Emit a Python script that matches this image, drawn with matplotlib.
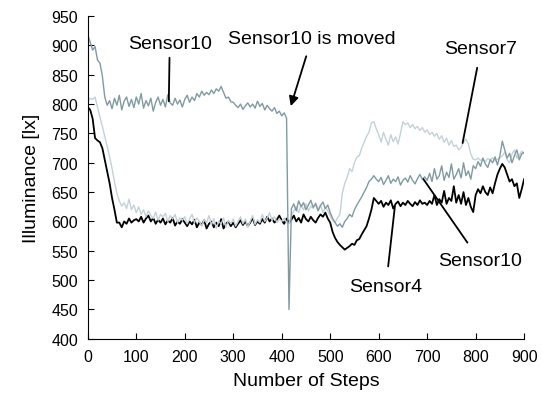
import matplotlib
matplotlib.use("Agg")
import matplotlib.pyplot as plt
import numpy as np

plt.rcParams["font.family"] = ["Liberation Sans", "DejaVu Sans"]

# readings every 5 steps, 0..900
steps = np.arange(0, 905, 5)

sensor10 = [
    918, 905, 892, 898, 875, 870, 848, 812, 798, 806, 792, 810, 798, 815, 790, 805, 812, 796, 808, 794,
    812, 800, 818, 793, 806, 797, 810, 788, 803, 812, 798, 808, 795, 816, 802, 798, 810, 800, 807, 795,
    808, 815, 803, 812, 806, 818, 812, 822, 815, 820, 816, 824, 818, 826, 822, 830, 820, 810, 812, 804,
    803, 798, 794, 800, 791, 797, 802, 795, 800, 793, 805, 796, 801, 790, 798, 792, 788, 794, 784, 788,
    780, 785, 776, 450, 622, 630, 618, 635, 625, 632, 620, 628, 636, 624, 630, 618, 627, 633, 622, 628,
    615, 605, 598, 592, 596, 590, 600, 605, 612, 608, 620, 628, 635, 642, 650, 658, 668, 672, 678, 672,
    668, 675, 663, 670, 678, 665, 672, 668, 676, 662, 670, 674, 667, 678, 670, 664, 673, 680, 672, 676,
    670, 682, 668, 690, 672, 678, 695, 670, 684, 675, 698, 672, 680, 690, 674, 700, 678, 686, 672, 695,
    690, 702, 694, 708, 698, 692, 705, 700, 710, 696, 712, 737, 722, 708, 716, 700, 712, 722, 705, 715,
    718,
]

sensor7 = [
    806, 810, 808, 812, 795, 778, 762, 745, 728, 710, 690, 668, 648, 635, 626, 632, 622, 638, 620, 628,
    615, 625, 612, 620, 608, 618, 610, 605, 616, 602, 612, 608, 614, 600, 610, 604, 612, 598, 606, 602,
    608, 596, 604, 612, 598, 606, 600, 592, 603, 598, 610, 594, 605, 588, 600, 596, 606, 590, 602, 596,
    604, 592, 600, 608, 596, 604, 590, 600, 610, 595, 603, 598, 612, 600, 606, 615, 602, 608, 598, 604,
    600, 606, 598, 596, 610, 618, 625, 615, 628, 620, 630, 618, 626, 622, 632, 620, 628, 615, 624, 618,
    610, 602, 598, 606, 612, 648, 665, 675, 690, 685, 700, 710, 712, 725, 735, 745, 752, 768, 770, 758,
    748, 735, 752, 740, 730, 748, 736, 744, 732, 750, 770, 765, 768, 760, 765, 758, 762, 755, 760, 752,
    756, 748, 752, 745, 750, 740, 746, 735, 742, 730, 738, 728, 730, 722, 726, 735, 740, 732, 715, 706,
    705, 708, 704, 706, 702, 707, 705, 708, 703, 706, 708, 712, 718, 705, 700, 715, 722, 708, 712, 720,
    715,
]

sensor4 = [
    795, 790, 775, 742, 738, 735, 725, 705, 685, 665, 640, 620, 598, 598, 590, 600, 596, 605, 598, 602,
    604, 600, 608, 598, 605, 610, 600, 606, 596, 603, 598, 605, 595, 602, 598, 606, 593, 600, 596, 604,
    598, 592, 600, 595, 603, 590, 598, 594, 602, 588, 596, 600, 590, 598, 592, 604, 588, 596, 600, 592,
    598, 590, 596, 602, 594, 600, 592, 598, 606, 594, 600, 596, 604, 598, 608, 600, 605, 598, 603, 610,
    602, 596, 605, 598, 603, 610, 600, 606, 598, 612, 604, 600, 608, 602, 598, 606, 612, 608, 615, 605,
    598, 582, 572, 565, 560, 556, 552, 555, 558, 562, 560, 568, 570, 578, 585, 592, 605, 620, 640, 635,
    630, 635, 625, 632, 628, 636, 622, 630, 634, 626, 632, 628, 635, 630, 626, 633, 628, 636, 630, 632,
    628, 635, 630, 645, 628, 638, 632, 652, 630, 640, 635, 660, 632, 645, 630, 650, 628, 640, 625, 616,
    645, 655, 648, 660, 650, 645, 658, 648, 665, 680, 690, 698, 692, 680, 668, 672, 660, 665, 640, 655,
    672,
]

fig = plt.figure(figsize=(5.42, 4.06), dpi=100)
ax = fig.add_axes([0.162, 0.163, 0.805, 0.795])

ax.plot(steps, sensor4, color="black", lw=1.3)
ax.plot(steps, sensor7, color="#c3d2d9", lw=1.0)
ax.plot(steps, sensor10, color="#7f9ba1", lw=1.0)

ax.set_xlim(0, 900)
ax.set_ylim(400, 950)
ax.set_xticks(np.arange(0, 901, 100))
ax.set_yticks(np.arange(400, 951, 50))
ax.tick_params(direction="in", length=4, labelsize=11.5, pad=7)
ax.spines["top"].set_visible(False)
ax.spines["right"].set_visible(False)
ax.set_xlabel("Number of Steps", fontsize=14, labelpad=6)
ax.set_ylabel("Illuminance [lx]", fontsize=14, labelpad=8)

line = dict(color="black", lw=1.3)
ax.annotate("Sensor10", xy=(167, 800), xytext=(169, 903), fontsize=14,
            ha="center", va="center", arrowprops=dict(arrowstyle="-", **line))
ax.annotate("Sensor10 is moved", xy=(417, 792), xytext=(462, 912), fontsize=14,
            ha="center", va="center",
            arrowprops=dict(arrowstyle="-|>", mutation_scale=14, shrinkA=5, **line))
ax.annotate("Sensor7", xy=(772, 729), xytext=(811, 895), fontsize=14,
            ha="center", va="center", arrowprops=dict(arrowstyle="-", shrinkA=6, **line))
ax.annotate("Sensor10", xy=(689, 676), xytext=(809, 533), fontsize=14,
            ha="center", va="center", arrowprops=dict(arrowstyle="-", shrinkA=6, **line))
ax.annotate("Sensor4", xy=(634, 630), xytext=(615, 490), fontsize=14,
            ha="center", va="center", arrowprops=dict(arrowstyle="-", shrinkA=6, **line))

fig.savefig("out.png", dpi=100)
